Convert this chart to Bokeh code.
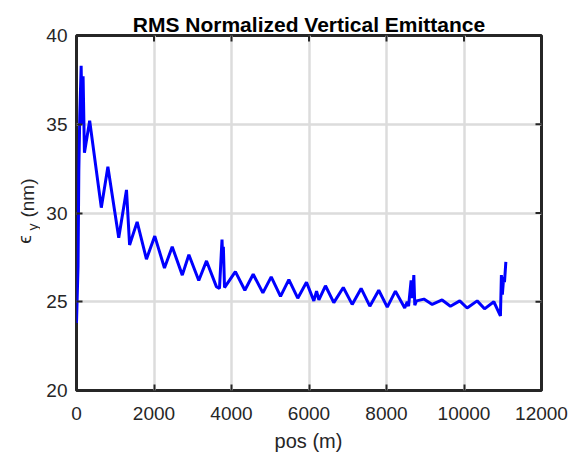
import math
from bokeh.plotting import figure
from bokeh.layouts import row, column
from bokeh.models import Range1d, SingleIntervalTicker, Label
from bokeh.embed import file_html
from bokeh.resources import INLINE

# position along the line (m)
pos = [0, 40, 60, 85, 120, 145, 170, 205, 340, 640, 810, 1090, 1290, 1370, 1565,
       1805, 2020, 2270, 2470, 2730, 2900, 3155, 3355, 3610, 3690, 3755, 3775, 3790,
       3820, 4100, 4345, 4560, 4810, 5025, 5265, 5480, 5710, 5935, 6125, 6195, 6255,
       6425, 6640, 6885, 7115, 7345, 7570, 7800, 8020, 8230, 8470, 8535, 8570, 8635,
       8670, 8705, 8730, 8775, 8965, 9180, 9435, 9650, 9890, 10080, 10340, 10530,
       10770, 10940, 10965, 10990, 11025, 11045, 11080]
# RMS normalized vertical emittance (nm)
emit = [23.8, 27.0, 32.4, 35.5, 38.3, 35.0, 37.7, 33.4, 35.2, 30.3, 32.6, 28.6, 31.3, 28.2, 29.5,
        27.4, 28.7, 26.9, 28.1, 26.5, 27.65, 26.2, 27.3, 25.85, 25.75, 28.5, 27.3, 28.1,
        25.8, 26.7, 25.65, 26.55, 25.5, 26.4, 25.3, 26.25, 25.2, 26.1, 25.05, 25.6, 25.1,
        25.9, 24.95, 25.8, 24.85, 25.75, 24.75, 25.65, 24.7, 25.6, 24.65, 25.0, 24.75, 26.2,
        25.2, 26.5, 24.8, 25.05, 25.15, 24.85, 25.1, 24.75, 25.05, 24.65, 25.05, 24.6,
        25.0, 24.2, 26.5, 25.4, 26.4, 26.1, 27.25]

title_text = "RMS Normalized Vertical Emittance"
xlabel_text = "pos (m)"
x_ticks = [0, 2000, 4000, 6000, 8000, 10000, 12000]
y_ticks = [20, 25, 30, 35, 40]

FONT = "Liberation Sans"
TXT = "#262626"
MAIN_H = 428
XL_H = 452 - MAIN_H

# ---------------- main plot ----------------
p = figure(width=531, height=MAIN_H, output_backend="svg", toolbar_location=None,
           x_range=Range1d(0, 12000), y_range=Range1d(20, 40),
           min_border_left=36, min_border_right=30, min_border_top=35,
           min_border_bottom=MAIN_H - 390)
p.background_fill_color = "white"
p.border_fill_color = "white"
p.outline_line_color = TXT
p.outline_line_width = 3

p.title.text = title_text
p.title.align = "center"
p.title.text_font = FONT
p.title.text_font_size = "21px"
p.title.text_font_style = "bold"
p.title.text_color = "black"
p.title.standoff = 0

xt = SingleIntervalTicker(interval=2000, num_minor_ticks=0)
yt = SingleIntervalTicker(interval=5, num_minor_ticks=0)
p.xaxis.ticker = xt
p.yaxis.ticker = yt
p.xgrid.ticker = xt
p.ygrid.ticker = yt
p.grid.grid_line_color = "#dcdcdc"
p.grid.grid_line_width = 2.5

for ax in list(p.xaxis) + list(p.yaxis):
    ax.axis_line_color = None
    ax.major_tick_in = 6
    ax.major_tick_out = 0
    ax.major_tick_line_color = TXT
    ax.major_tick_line_width = 2
    ax.minor_tick_line_color = None
    ax.major_label_text_font = FONT
    ax.major_label_text_font_size = "19px"
    ax.major_label_text_color = TXT

p.xaxis.major_label_standoff = 16
p.yaxis.major_label_standoff = 9

p.line(pos, emit, line_color="#0000FF", line_width=3)

# inward ticks on the top and right edges of the box (clipped to the frame)
p.scatter(x_ticks, [40] * len(x_ticks), marker="dash", angle=math.pi / 2, size=12,
          line_color=TXT, line_width=2)
p.scatter([12000] * len(y_ticks), y_ticks, marker="dash", size=12,
          line_color=TXT, line_width=2)

# ---------------- y-axis label strip (epsilon_y (nm)) ----------------
yl = figure(width=40, height=MAIN_H, output_backend="svg", toolbar_location=None,
            x_range=Range1d(0, 40), y_range=Range1d(0, MAIN_H),
            x_axis_location=None, y_axis_location=None,
            min_border=0, min_border_left=0, min_border_right=0,
            min_border_top=0, min_border_bottom=0)
yl.grid.visible = False
yl.outline_line_color = None
yl.background_fill_color = "white"
yl.border_fill_color = "white"
ang = math.pi / 2
def ylab(text, x, cy, size):
    yl.add_layout(Label(x=x, y=MAIN_H - cy, text=text, angle=ang,
                        text_align="center", text_baseline="alphabetic", text_font=FONT,
                        text_font_size=size, text_color=TXT))
ylab("(nm)", 27, 196, "19px")
ylab("\u03f5", 24, 246, "19px")
ylab("y", 32, 231, "14px")

# ---------------- x-axis label strip ----------------
xl = figure(width=571, height=XL_H, output_backend="svg", toolbar_location=None,
            x_range=Range1d(0, 571), y_range=Range1d(0, XL_H),
            x_axis_location=None, y_axis_location=None,
            min_border=0, min_border_left=0, min_border_right=0,
            min_border_top=0, min_border_bottom=0)
xl.grid.visible = False
xl.outline_line_color = None
xl.background_fill_color = "white"
xl.border_fill_color = "white"
xl.add_layout(Label(x=308, y=XL_H / 2, text=xlabel_text, text_align="center",
                    text_baseline="middle", text_font=FONT, text_font_size="20px",
                    text_color=TXT))

layout = column(row(yl, p, spacing=0), xl, spacing=0)
open("out.html", "w").write(file_html(layout, INLINE))
